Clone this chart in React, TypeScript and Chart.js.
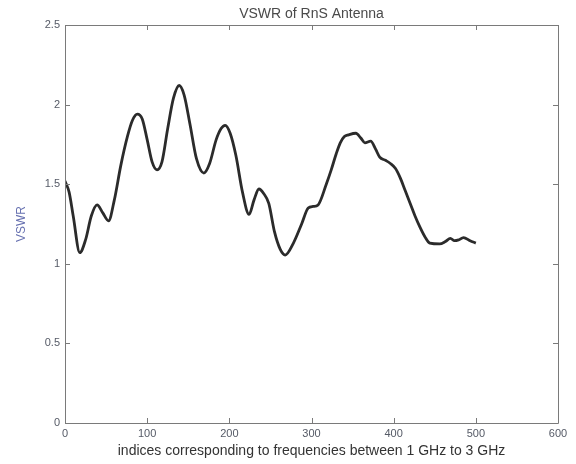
import React, { useEffect, useRef } from "react";
import { Chart, registerables } from "chart.js";

Chart.register(...registerables);

const indices = [0, 5, 10, 18, 25, 32, 39, 46, 53, 60, 68, 76, 82, 88, 94, 100, 106, 112, 118, 125, 132, 139, 145, 152, 160, 169, 176, 184, 190, 195, 201, 208, 216, 224, 230, 236, 242, 248, 255, 262, 268, 278, 288, 296, 302, 308, 318, 324, 330, 335, 340, 345, 354, 360, 365, 372, 378, 383, 390, 396, 402, 408, 414, 420, 426, 432, 438, 444, 456, 463, 469, 474, 479, 485, 493, 500];
const vswr = [1.52, 1.45, 1.3, 1.07, 1.15, 1.3, 1.37, 1.32, 1.27, 1.4, 1.62, 1.8, 1.9, 1.94, 1.91, 1.78, 1.64, 1.59, 1.64, 1.85, 2.04, 2.12, 2.06, 1.88, 1.66, 1.57, 1.63, 1.78, 1.85, 1.87, 1.82, 1.68, 1.45, 1.31, 1.4, 1.47, 1.44, 1.38, 1.2, 1.09, 1.055, 1.13, 1.25, 1.35, 1.36, 1.37, 1.5, 1.59, 1.69, 1.76, 1.8, 1.81, 1.82, 1.79, 1.76, 1.77, 1.72, 1.67, 1.65, 1.63, 1.6, 1.54, 1.46, 1.38, 1.3, 1.23, 1.17, 1.13, 1.125, 1.14, 1.16, 1.145, 1.15, 1.165, 1.145, 1.13];

const xTicks = [0, 100, 200, 300, 400, 500, 600];
const yTicks = [0, 0.5, 1, 1.5, 2, 2.5];

const titleText = "VSWR of RnS Antenna";
const xTitle = "indices corresponding to frequencies between 1 GHz to 3 GHz";
const yTitle = "VSWR";

const FONT = "'Liberation Sans', Arial, sans-serif";

const boxPlugin = {
  id: "matlabBox",
  afterDatasetsDraw(chart: any) {
    const { ctx, chartArea } = chart;
    const { left, right, top, bottom } = chartArea;
    const xs = chart.scales.x;
    const ys = chart.scales.y;
    ctx.save();
    ctx.strokeStyle = "#7a7a7a";
    ctx.lineWidth = 1;
    ctx.beginPath();
    ctx.rect(Math.round(left) + 0.5, Math.round(top) + 0.5, Math.round(right - left), Math.round(bottom - top));
    ctx.stroke();
    const tl = 5;
    ctx.beginPath();
    xTicks.forEach((v) => {
      const px = Math.round(xs.getPixelForValue(v)) + 0.5;
      ctx.moveTo(px, bottom);
      ctx.lineTo(px, bottom - tl);
      ctx.moveTo(px, top);
      ctx.lineTo(px, top + tl);
    });
    yTicks.forEach((v) => {
      const py = Math.round(ys.getPixelForValue(v)) + 0.5;
      ctx.moveTo(left, py);
      ctx.lineTo(left + tl, py);
      ctx.moveTo(right, py);
      ctx.lineTo(right - tl, py);
    });
    ctx.stroke();
    ctx.restore();
  },
};

export default function App() {
  const ref = useRef<HTMLCanvasElement | null>(null);
  useEffect(() => {
    if (!ref.current) return;
    const chart = new Chart(ref.current, {
      type: "line",
      data: {
        datasets: [
          {
            data: indices.map((x, i) => ({ x, y: vswr[i] })),
            borderColor: "#2b2b2b",
            borderWidth: 2.8,
            pointRadius: 0,
            cubicInterpolationMode: "monotone",
            fill: false,
          },
        ],
      },
      options: {
        responsive: false,
        animation: false,
        layout: { padding: { left: 0, right: 18, top: 0, bottom: 0 } },
        plugins: {
          legend: { display: false },
          tooltip: { enabled: false },
          title: {
            display: true,
            fullSize: false,
            text: titleText,
            color: "#4a4a4a",
            font: { family: FONT, size: 14, weight: "normal" },
            padding: { top: 5.6, bottom: 2.6 },
          },
        },
        scales: {
          x: {
            type: "linear",
            min: 0,
            max: 600,
            afterBuildTicks: (s: any) => {
              s.ticks = xTicks.map((v) => ({ value: v }));
            },
            afterFit: (s: any) => {
              s.height = 41;
            },
            grid: { display: false, drawTicks: false },
            border: { display: false },
            ticks: {
              color: "#555a66",
              font: { family: FONT, size: 11 },
              padding: 4,
              maxRotation: 0,
              autoSkip: false,
              callback: (v: any) => String(v),
            },
            title: {
              display: true,
              text: xTitle,
              color: "#333333",
              font: { family: FONT, size: 14 },
              padding: { top: 0, bottom: 4.6 },
            },
          },
          y: {
            type: "linear",
            min: 0,
            max: 2.5,
            afterBuildTicks: (s: any) => {
              s.ticks = yTicks.map((v) => ({ value: v }));
            },
            afterFit: (s: any) => {
              s.width = 65;
            },
            grid: { display: false, drawTicks: false },
            border: { display: false },
            ticks: {
              color: "#555a66",
              font: { family: FONT, size: 11 },
              padding: 5,
              autoSkip: false,
              callback: (v: any) => String(v),
            },
            title: {
              display: true,
              text: yTitle,
              color: "#6670b0",
              font: { family: FONT, size: 12 },
              padding: { top: 14, bottom: 0 },
            },
          },
        },
      },
      plugins: [boxPlugin],
    } as any);
    return () => chart.destroy();
  }, []);
  return (
    <div style={{ position: "fixed", left: 0, top: 0, width: 576, height: 464, background: "#ffffff" }}>
      <canvas ref={ref} width={576} height={464} style={{ width: 576, height: 464, display: "block" }} />
    </div>
  );
}
